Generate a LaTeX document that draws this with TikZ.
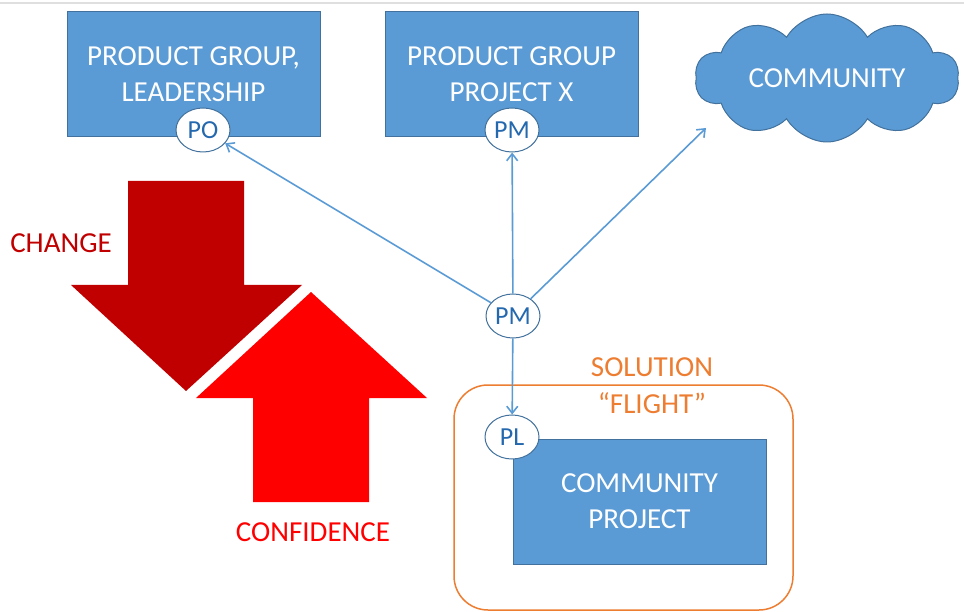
\documentclass[tikz,border=0pt]{standalone}
\usepackage{fontspec}
\setmainfont{Carlito}
\usepackage{xcolor}
\usepackage{tikz}
\usetikzlibrary{shapes.geometric, shapes.symbols, arrows.meta, positioning}

\definecolor{boxblue}{HTML}{5B9BD5}
\definecolor{boxline}{HTML}{41719C}
\definecolor{roletext}{HTML}{2468AE}
\definecolor{flightorange}{HTML}{ED7D31}
\definecolor{changered}{HTML}{C00000}
\definecolor{confred}{HTML}{FF0000}

\tikzset{
  groupbox/.style={rectangle, fill=boxblue, draw=boxline, line width=1pt,
    minimum width=253pt, minimum height=125pt, inner sep=0pt, align=center,
    text=white, font=\fontsize{29}{36}\selectfont},
  rolebadge/.style={ellipse, fill=white, draw=boxline, line width=1pt,
    minimum width=54pt, minimum height=44pt, inner sep=0pt, text=roletext,
    font=\fontsize{26}{28}\selectfont},
  link/.style={draw=boxblue, line width=1.6pt, ->},
  bigword/.style={font=\fontsize{29}{37}\selectfont, align=center}
}

\begin{document}
\begin{tikzpicture}[x=1pt, y=-1pt, >={Straight Barb[length=7pt,width=11pt]}]
    \useasboundingbox (0,0) rectangle (964,612);
    % top rule
    \draw[gray!25, line width=2.5pt] (0,3) -- (964,3);

    % --- groups on top ---
    \node[groupbox] (lead) at (193.5,74.5) {PRODUCT GROUP,\\LEADERSHIP};
    \node[groupbox] (projx) at (511.5,74.5) {PRODUCT GROUP\\PROJECT X};
    \node[cloud, cloud puffs=10, cloud puff arc=120, cloud ignores aspect,
          fill=boxblue, draw=boxline, line width=1pt,
          minimum width=264pt, minimum height=128pt, inner sep=0pt,
          text=white, font=\fontsize{29}{36}\selectfont] (comm) at (827,78) {COMMUNITY};

    % --- solution flight ---
    \draw[flightorange, line width=1.5pt, rounded corners=34pt] (454,385) rectangle (793,610);
    \node[bigword, text=flightorange] (flight) at (652,386) {SOLUTION\\“FLIGHT”};
    \node[groupbox] (cproj) at (639.5,501.5) {COMMUNITY\\PROJECT};

    % --- roles ---
    \node[rolebadge] (po) at (203,130) {PO};
    \node[rolebadge] (pmx) at (512,130) {PM};
    \node[rolebadge] (pm) at (513,316) {PM};
    \node[rolebadge] (pl) at (512,437) {PL};
    \coordinate (commin) at (706,128);

    \draw[link] (pm) -- (po);
    \draw[link] (pm) -- (pmx);
    \draw[link] (pm) -- (commin);
    \draw[link] (pm) -- (pl);

    % --- change vs confidence ---
    \fill[changered] (128,181) -- (244,181) -- (244,285) -- (302,285) -- (186,391)
        -- (71,285) -- (128,285) -- cycle;
    \fill[confred] (253,502) -- (369,502) -- (369,398) -- (427,398) -- (311,292)
        -- (196,398) -- (253,398) -- cycle;
    \node[bigword, text=changered] (change) at (61,243) {CHANGE};
    \node[bigword, text=confred] (conf) at (313,532) {CONFIDENCE};
\end{tikzpicture}
\end{document}
